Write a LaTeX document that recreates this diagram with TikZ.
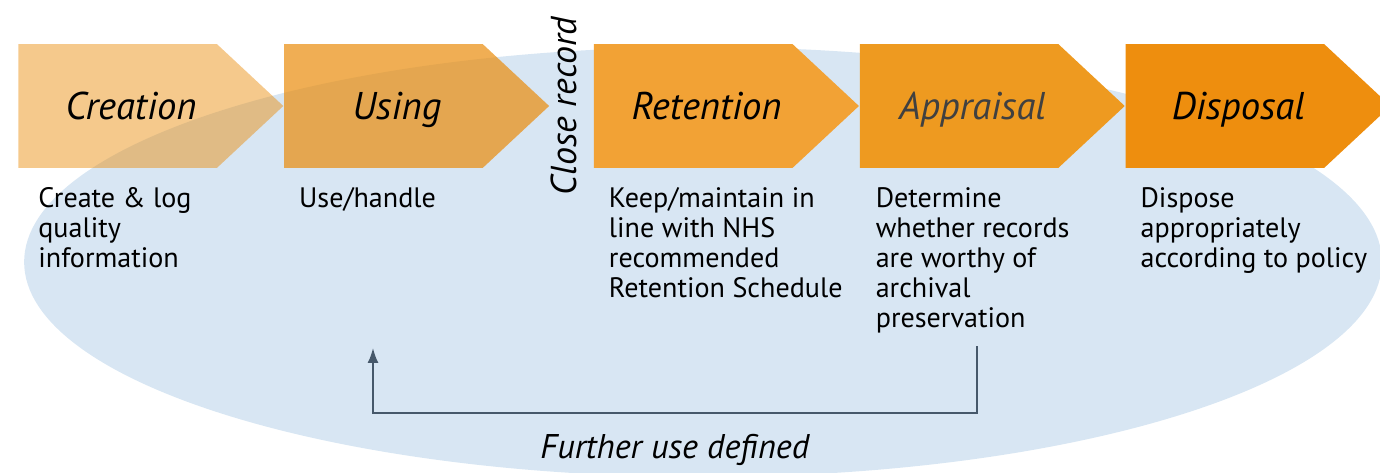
\documentclass[tikz,border=0pt]{standalone}
\usepackage{fontspec}
\setmainfont{PT Sans}
\usetikzlibrary{shapes.symbols,positioning,calc,arrows.meta}

\definecolor{stageorange}{HTML}{EA8C0B}
\definecolor{retentionorange}{HTML}{F2A235}
\definecolor{appraisalorange}{HTML}{EE9A20}
\definecolor{disposalorange}{HTML}{EE8E0E}
\definecolor{cloudblue}{HTML}{D8E6F3}
\definecolor{loopgrey}{HTML}{46586A}
\definecolor{titlegrey}{HTML}{404040}

\begin{document}
\begin{tikzpicture}[x=0.02cm,y=-0.02cm]
        \tikzstyle{stage}=[signal,signal to=east,signal pointer angle=86,minimum width=5.30cm,minimum height=2.48cm,inner sep=0pt,draw=none]
        \tikzstyle{title}=[font=\fontsize{22}{24}\selectfont\itshape]
        \tikzstyle{desc}=[anchor=north west,inner sep=0pt,align=left,font=\fontsize{16}{17}\selectfont]
        \tikzstyle{loop}=[draw=loopgrey,line width=1.1pt]

        \useasboundingbox (0,0) rectangle (1380,473);
        \clip (0,0) rectangle (1380,473);

        % the blue cloud behind everything
        \fill[cloudblue] (703,262) ellipse [x radius=13.58cm,y radius=4.3cm];

        % the five stages
        \node [stage,fill=stageorange,fill opacity=0.47,anchor=west] (creation) at (18,106) {};
        \node [stage,fill=stageorange,fill opacity=0.7,right=0pt of creation] (using) {};
        \node [stage,fill=retentionorange,right=0.88cm of using] (retention) {};
        \node [stage,fill=appraisalorange,right=0pt of retention] (appraisal) {};
        \node [stage,fill=disposalorange,right=0pt of appraisal] (disposal) {};

        \node [title,font=\fontsize{20.5}{22}\selectfont\itshape,rotate=90] (close) at (564,106) {Close record};

        %titles and texts of the stages
        \foreach \s/\t/\c in {creation/Creation/black,using/Using/black,retention/Retention/black,appraisal/Appraisal/titlegrey,disposal/Disposal/black} {
            \node [title,text=\c,anchor=base] (\s_title) at ($(\s.west)+(113,14)$) {\t};
        };
        \foreach \s/\d/\dx in {creation/{Create \& log\\quality\\information}/20,
                               using/{Use/handle}/15,
                               retention/{Keep/maintain in\\line with NHS\\recommended\\Retention Schedule}/15,
                               appraisal/{Determine\\whether records\\are worthy of\\archival\\preservation}/16,
                               disposal/{Dispose\\appropriately\\according to policy}/15} {
            \node [desc] (\s_desc) at ($(\s.south west)+(\dx,19)$) {\d};
        };

        % further use loop
        \coordinate (back) at (373,348);
        \draw [loop,-{Latex[length=0.3cm,width=0.22cm]}] ($(appraisal_desc.south)+(4,13)$) -- ++(0,67)
            -| node [pos=0.25,below=0.4cm,inner sep=0pt,font=\fontsize{19.5}{21}\selectfont\itshape,text=black] (further) {Further use defined} (back);
\end{tikzpicture}
\end{document}
